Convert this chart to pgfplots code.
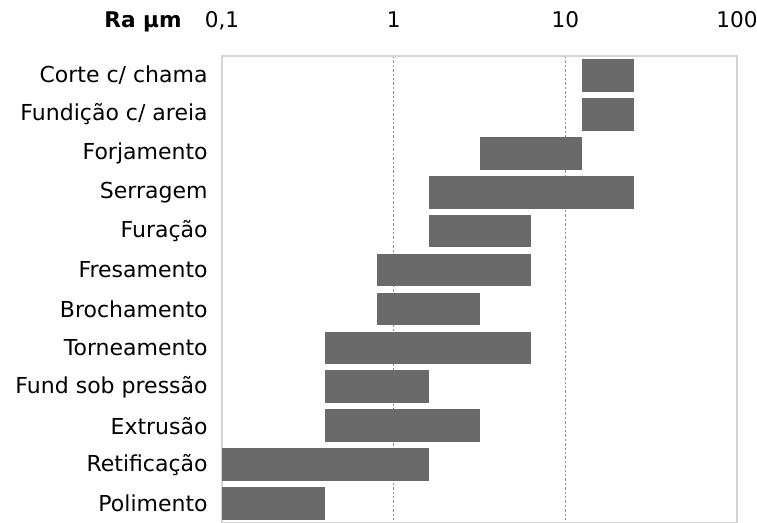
\documentclass[border=0pt]{standalone}
\usepackage{pgfplots}
\pgfplotsset{compat=1.18}
\usepackage{fontspec}
\setmainfont{DejaVu Sans}
\definecolor{barc}{HTML}{6A6A6A}
\definecolor{framec}{HTML}{D4D4D4}
\begin{document}
\begin{tikzpicture}
\begin{axis}[
  scale only axis,
  width=257.5pt, height=233.5pt,
  xmode=log, xmin=0.1, xmax=100,
  ymin=-0.5, ymax=11.5, y dir=reverse,
  xtick={0.1,1,10,100},
  xticklabels={{0,1},1,10,100},
  xticklabel pos=upper,
  xticklabel style={font=\fontsize{10.8}{13}\selectfont, inner sep=0pt, anchor=base, yshift=14pt},
  ytick={0,1,2,3,4,5,6,7,8,9,10,11},
  yticklabels={Corte c/ chama,Fundição c/ areia,Forjamento,Serragem,Furação,Fresamento,Brochamento,Torneamento,Fund sob pressão,Extrusão,Retificação,Polimento},
  yticklabel style={font=\fontsize{11}{13}\selectfont, inner sep=0pt, xshift=-7pt},
  major tick length=0pt,
  minor tick num=0,
  xminorticks=false,
  xmajorgrids,
  major grid style={color=gray!85, dash pattern=on 1.2pt off 1pt, line width=0.4pt},
  axis line style={framec, line width=0.8pt},
  clip=true,
]
\addplot[fill=barc, draw=none] coordinates {(12.5,-0.42) (25,-0.42) (25,0.42) (12.5,0.42)};
\addplot[fill=barc, draw=none] coordinates {(12.5,0.58) (25,0.58) (25,1.42) (12.5,1.42)};
\addplot[fill=barc, draw=none] coordinates {(3.2,1.58) (12.5,1.58) (12.5,2.42) (3.2,2.42)};
\addplot[fill=barc, draw=none] coordinates {(1.6,2.58) (25,2.58) (25,3.42) (1.6,3.42)};
\addplot[fill=barc, draw=none] coordinates {(1.6,3.58) (6.3,3.58) (6.3,4.42) (1.6,4.42)};
\addplot[fill=barc, draw=none] coordinates {(0.8,4.58) (6.3,4.58) (6.3,5.42) (0.8,5.42)};
\addplot[fill=barc, draw=none] coordinates {(0.8,5.58) (3.2,5.58) (3.2,6.42) (0.8,6.42)};
\addplot[fill=barc, draw=none] coordinates {(0.4,6.58) (6.3,6.58) (6.3,7.42) (0.4,7.42)};
\addplot[fill=barc, draw=none] coordinates {(0.4,7.58) (1.6,7.58) (1.6,8.42) (0.4,8.42)};
\addplot[fill=barc, draw=none] coordinates {(0.4,8.58) (3.2,8.58) (3.2,9.42) (0.4,9.42)};
\addplot[fill=barc, draw=none] coordinates {(0.1,9.58) (1.6,9.58) (1.6,10.42) (0.1,10.42)};
\addplot[fill=barc, draw=none] coordinates {(0.1,10.58) (0.4,10.58) (0.4,11.42) (0.1,11.42)};
\end{axis}
\node[font=\fontsize{10.8}{13}\selectfont\bfseries, inner sep=0pt, anchor=base] at ([xshift=-39.5pt, yshift=14pt]current axis.north west) {Ra µm};
\pgfresetboundingbox
\path (current axis.south west) ++(-111pt,0pt) rectangle ++(378.5pt,261.5pt);
\end{tikzpicture}
\end{document}
